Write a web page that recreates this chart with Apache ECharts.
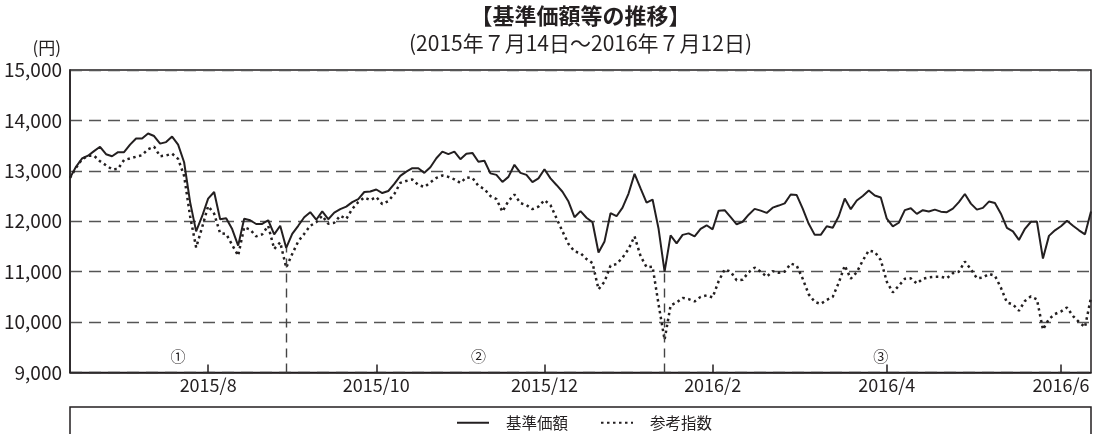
<!DOCTYPE html>
<html>
<head>
<meta charset="utf-8">
<title>基準価額等の推移</title>
<script src="https://cdn.jsdelivr.net/npm/echarts@6/dist/echarts.min.js"></script>
<style>
  html, body { margin: 0; padding: 0; background: #fff; }
  #main { width: 1096px; height: 434px; }
</style>
</head>
<body>
<div id="main"></div>
<script type="text/javascript">
    // samples per month (x axis is evenly spaced samples)
    var monthCounts = [['2015/7', 11], ['2015/8', 13], ['2015/9', 14], ['2015/10', 14], ['2015/11', 14], ['2015/12', 14],
        ['2016/1', 14], ['2016/2', 14], ['2016/3', 15], ['2016/4', 14], ['2016/5', 15], ['2016/6', 14], ['2016/7', 5]]
    var tickMonths = ['2015/8', '2015/10', '2015/12', '2016/2', '2016/4', '2016/6']

    // 基準価額
    var navValues = [
        12860, 13080, 13245, 13300, 13390, 13477, 13330, 13290, 13370, 13370,
        13520, 13640, 13640, 13740, 13690, 13540, 13570, 13680, 13520, 13170,
        12380, 11800, 12100, 12450, 12580, 12040, 12060, 11845, 11517, 12050,
        12020, 11945, 11947, 12020, 11740, 11910, 11470, 11748, 11910, 12080,
        12180, 12030, 12195, 12040, 12170, 12240, 12290, 12380, 12440, 12580,
        12590, 12630, 12560, 12600, 12740, 12900, 12985, 13053, 13050, 12960,
        13070, 13250, 13380, 13330, 13380, 13230, 13340, 13355, 13180, 13200,
        12950, 12920, 12780, 12880, 13120, 12960, 12920, 12775, 12850, 13030,
        12850, 12720, 12585, 12390, 12080, 12200, 12070, 11980, 11380, 11600,
        12160, 12100, 12270, 12550, 12940, 12650, 12370, 12430, 11850, 11000,
        11720, 11560, 11730, 11760, 11700, 11850, 11920, 11840, 12210, 12220,
        12080, 11940, 11990, 12130, 12245, 12210, 12166, 12270, 12311, 12355,
        12530, 12520, 12250, 11950, 11730, 11730, 11900, 11870, 12100, 12450,
        12240, 12411, 12500, 12609, 12510, 12470, 12050, 11900, 11970, 12220,
        12258, 12146, 12220, 12195, 12230, 12190, 12180, 12250, 12380, 12540,
        12350, 12230, 12265, 12390, 12364, 12150, 11870, 11800, 11630, 11850,
        11990, 11993, 11260, 11710, 11820, 11900, 12010, 11910, 11820, 11740,
        12192
    ]
    // 参考指数
    var refValues = [
        12860, 13060, 13230, 13300, 13300, 13190, 13110, 13030, 13040, 13215,
        13245, 13280, 13310, 13430, 13480, 13290, 13305, 13340, 13238, 12900,
        12100, 11480, 11880, 12300, 12150, 11760, 11750, 11530, 11318, 11880,
        11834, 11700, 11740, 11910, 11450, 11583, 11080, 11350, 11600, 11750,
        11910, 11980, 12110, 11950, 11970, 12110, 12046, 12245, 12380, 12470,
        12420, 12480, 12340, 12400, 12540, 12760, 12800, 12828, 12720, 12680,
        12770, 12860, 12907, 12880, 12830, 12760, 12870, 12860, 12700, 12640,
        12500, 12440, 12190, 12400, 12530, 12360, 12320, 12240, 12290, 12420,
        12320, 12060, 11800, 11550, 11400, 11370, 11250, 11170, 10650, 10800,
        11120, 11150, 11280, 11450, 11700, 11310, 11090, 11100, 10350, 9650,
        10330, 10390, 10480, 10455, 10410, 10500, 10530, 10490, 10810, 11045,
        11000, 10830, 10840, 10990, 11080, 11000, 10900, 11010, 10980, 11000,
        11160, 11120, 10860, 10550, 10400, 10360, 10440, 10500, 10780, 11120,
        10860, 10990, 11220, 11420, 11390, 11230, 10800, 10590, 10720, 10860,
        10868, 10765, 10860, 10887, 10900, 10900, 10870, 10970, 11000, 11200,
        11050, 10868, 10885, 10955, 10920, 10680, 10390, 10350, 10225, 10420,
        10510, 10450, 9850, 10060, 10160, 10210, 10290, 10120, 10000, 9900,
        10490
    ]

    // period separators (sample index) and period labels
    var periodBreaks = [36, 99]
    var periodMarks = [['①', 18], ['②', 68], ['③', 135]]
    var markLevel = 9315

    var categories = []
    monthCounts.forEach(function (m) {
        for (var k = 0; k < m[1]; k++) categories.push(m[0] + '-' + k)
    })
    var tickIdx = tickMonths.map(function (m) {
        return categories.lastIndexOf(m + '-' + (monthCounts.find(function (e) { return e[0] == m })[1] - 1))
    })
    var showTick = function (i) { return tickIdx.indexOf(i) >= 0 }

    var font = '"Noto Sans CJK JP", "Noto Sans", sans-serif'
    var ink = '#231f20'

    var myChart = echarts.init(document.getElementById('main'))
    var option = {
        animation: false,
        textStyle: {fontFamily: font, color: ink},
        title: [{
            text: '【基準価額等の推移】',
            left: 580.5, top: 5, padding: 0, textAlign: 'center',
            textStyle: {fontFamily: font, fontSize: 22, fontWeight: 'bold', color: ink}
        }, {
            text: '(2015年７月14日～2016年７月12日)',
            left: 580.5, top: 33, padding: 0, textAlign: 'center',
            textStyle: {fontFamily: font, fontSize: 21, fontWeight: 'normal', color: ink}
        }],
        grid: {
            left: 70, right: 5, top: 70, bottom: 61.5,
            show: true, borderColor: ink, borderWidth: 1.5
        },
        legend: {
            left: 456, top: 415, padding: 0, itemGap: 32,
            itemWidth: 32, itemHeight: 14,
            itemStyle: {opacity: 0},
            textStyle: {fontFamily: font, fontSize: 15.5, color: ink, padding: [0, 0, 0, 12]},
            data: ['基準価額', '参考指数']
        },
        graphic: [{
            type: 'rect',
            shape: {x: 70, y: 407, width: 1021, height: 40},
            style: {fill: 'none', stroke: ink, lineWidth: 1.5},
            silent: true
        }],
        xAxis: {
            type: 'category',
            data: categories,
            boundaryGap: false,
            axisLine: {lineStyle: {color: ink, width: 1.5}},
            axisTick: {interval: showTick, inside: true, length: 8, lineStyle: {color: ink, width: 1.5}},
            axisLabel: {
                interval: showTick, fontSize: 18, margin: 4, color: ink, fontFamily: font,
                formatter: function (v) { return v.split('-')[0] }
            },
            splitLine: {show: false}
        },
        yAxis: {
            type: 'value',
            min: 9000, max: 15000, interval: 1000,
            name: '(円)',
            nameLocation: 'end', nameGap: 14,
            nameTextStyle: {fontFamily: font, fontSize: 17, color: ink, align: 'right', padding: [0, 9, 0, 0]},
            axisLine: {show: true, lineStyle: {color: ink, width: 1.5}},
            axisTick: {show: false},
            axisLabel: {
                fontSize: 19, margin: 8, color: ink, fontFamily: font,
                formatter: function (v) { return v.toLocaleString('en-US') }
            },
            splitLine: {show: true, lineStyle: {color: '#555', width: 1.4, type: [12, 7]}}
        },
        series: [{
            name: '参考指数',
            type: 'line',
            data: refValues,
            symbol: 'none',
            lineStyle: {color: ink, width: 2.5, type: [2.5, 3.5]},
            itemStyle: {color: ink},
            markLine: {
                silent: true, symbol: 'none',
                label: {show: false},
                lineStyle: {color: '#444', width: 1.4, type: [9, 6]},
                data: periodBreaks.map(function (i) {
                    return [{coord: [categories[i], 9000]}, {coord: [categories[i], navValues[i]]}]
                })
            },
            markPoint: {
                silent: true, symbol: 'circle', symbolSize: 1,
                itemStyle: {color: 'rgba(0,0,0,0)'},
                label: {show: true, position: 'inside', fontSize: 15, color: ink, fontFamily: font},
                data: periodMarks.map(function (p) {
                    return {coord: [categories[p[1]], markLevel], value: p[0],
                        label: {formatter: p[0]}}
                })
            }
        }, {
            name: '基準価額',
            type: 'line',
            data: navValues,
            symbol: 'none',
            lineStyle: {color: ink, width: 2},
            itemStyle: {color: ink}
        }]
    }
    myChart.setOption(option)
</script>
</body>
</html>
